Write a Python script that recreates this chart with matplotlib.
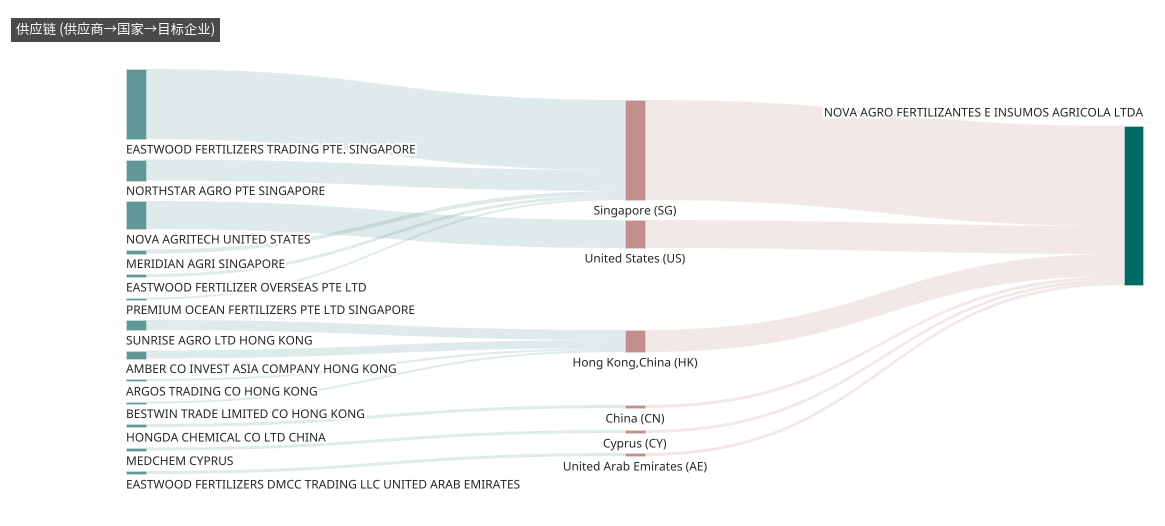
import matplotlib
matplotlib.use('Agg')
import matplotlib.pyplot as plt
from matplotlib.path import Path
from matplotlib.patches import PathPatch, Rectangle
import matplotlib.patheffects as pe

plt.rcParams['font.family'] = ['Noto Sans', 'Noto Sans CJK SC', 'DejaVu Sans']

# 数据: 供应商 -> 国家 -> 目标企业
title = '供应链 (供应商→国家→目标企业)'
suppliers = [
    'EASTWOOD FERTILIZERS TRADING PTE. SINGAPORE',
    'NORTHSTAR AGRO PTE SINGAPORE',
    'NOVA AGRITECH UNITED STATES',
    'MERIDIAN AGRI SINGAPORE',
    'EASTWOOD FERTILIZER OVERSEAS PTE LTD',
    'PREMIUM OCEAN FERTILIZERS PTE LTD SINGAPORE',
    'SUNRISE AGRO LTD HONG KONG',
    'AMBER CO INVEST ASIA COMPANY HONG KONG',
    'ARGOS TRADING CO HONG KONG',
    'BESTWIN TRADE LIMITED CO HONG KONG',
    'HONGDA CHEMICAL CO LTD CHINA',
    'MEDCHEM CYPRUS',
    'EASTWOOD FERTILIZERS DMCC TRADING LLC UNITED ARAB EMIRATES',
]
supplier_country = ['SG', 'SG', 'US', 'SG', 'SG', 'SG', 'HK', 'HK', 'HK', 'HK', 'CN', 'CY', 'AE']
supplier_value = [70, 21, 28, 4, 3, 2, 10, 8, 2, 2, 3, 3, 3]
country_codes = ['SG', 'US', 'HK', 'CN', 'CY', 'AE']
country_names = ['Singapore (SG)', 'United States (US)', 'Hong Kong,China (HK)',
                 'China (CN)', 'Cyprus (CY)', 'United Arab Emirates (AE)']
target = 'NOVA AGRO FERTILIZANTES E INSUMOS AGRICOLA LTDA'

country_value = [sum(v for c, v in zip(supplier_country, supplier_value) if c == cc)
                 for cc in country_codes]

# 布局 (像素坐标)
W, H = 1165, 526
node_w = 20
x_left, x_mid, x_right = 126, 625, 1124
left_top, left_gap = 69, 20.5
mid_gaps = [100, 20, 82, 53, 22, 20]
right_top = 126

c_left = '#5f9896'
c_mid = '#c48e8d'
c_right = '#006a64'
txt_c = '#262626'

fig = plt.figure(figsize=(W / 100, H / 100), dpi=100)
ax = fig.add_axes([0, 0, 1, 1])
ax.set_xlim(0, W)
ax.set_ylim(H, 0)
ax.axis('off')

# 节点位置
left_pos = []
y = left_top
for v in supplier_value:
    left_pos.append((y, y + v))
    y += v + left_gap

mid_pos = []
y = 0
for g, v in zip(mid_gaps, country_value):
    y += g
    mid_pos.append((y, y + v))
    y += v

right_pos = (right_top, right_top + sum(country_value))


def link(x0, y0a, y0b, x1, y1a, y1b, color):
    xm = (x0 + x1) / 2
    verts = [(x0, y0a), (xm, y0a), (xm, y1a), (x1, y1a),
             (x1, y1b), (xm, y1b), (xm, y0b), (x0, y0b), (x0, y0a)]
    codes = [Path.MOVETO, Path.CURVE4, Path.CURVE4, Path.CURVE4,
             Path.LINETO, Path.CURVE4, Path.CURVE4, Path.CURVE4, Path.CLOSEPOLY]
    ax.add_patch(PathPatch(Path(verts, codes), fc=color, ec='none', alpha=0.2, zorder=1))


# 供应商 -> 国家
mid_fill = [p[0] for p in mid_pos]
for i, (c, v) in enumerate(zip(supplier_country, supplier_value)):
    j = country_codes.index(c)
    y0a, y0b = left_pos[i]
    y1a = mid_fill[j]
    mid_fill[j] += v
    link(x_left + node_w, y0a, y0b, x_mid, y1a, y1a + v, c_left)

# 国家 -> 目标企业
yr = right_pos[0]
for j, v in enumerate(country_value):
    y0a, y0b = mid_pos[j]
    link(x_mid + node_w, y0a, y0b, x_right, yr, yr + v, c_mid)
    yr += v

stroke = [pe.withStroke(linewidth=3, foreground='white')]

for (ya, yb), name in zip(left_pos, suppliers):
    ax.add_patch(Rectangle((x_left, ya), node_w, yb - ya, fc=c_left, ec='#d0dcdc', lw=0.5, zorder=2))
    ax.text(x_left, yb + 11, name, ha='left', va='center', fontsize=8.6,
            color=txt_c, path_effects=stroke, zorder=3)

for (ya, yb), name in zip(mid_pos, country_names):
    ax.add_patch(Rectangle((x_mid, ya), node_w, yb - ya, fc=c_mid, ec='#e6d2d2', lw=0.5, zorder=2))
    ax.text(x_mid + node_w / 2, yb + 11, name, ha='center', va='center', fontsize=8.6,
            color=txt_c, path_effects=stroke, zorder=3)

ya, yb = right_pos
ax.add_patch(Rectangle((x_right, ya), node_w - 1, yb - ya, fc=c_right, ec='#b8cfcd', lw=0.6, zorder=2))
ax.text(x_right + node_w - 1, ya - 13, target, ha='right', va='center', fontsize=8.6,
        color=txt_c, path_effects=stroke, zorder=3)

ax.text(16, 30, title, ha='left', va='center', fontsize=9.6, color='white',
        family=['Noto Sans CJK SC', 'DejaVu Sans'],
        bbox=dict(boxstyle='square,pad=0.35', fc='#4a4a4a', ec='none'), zorder=4)

fig.savefig('out.png', dpi=100, facecolor='white')
